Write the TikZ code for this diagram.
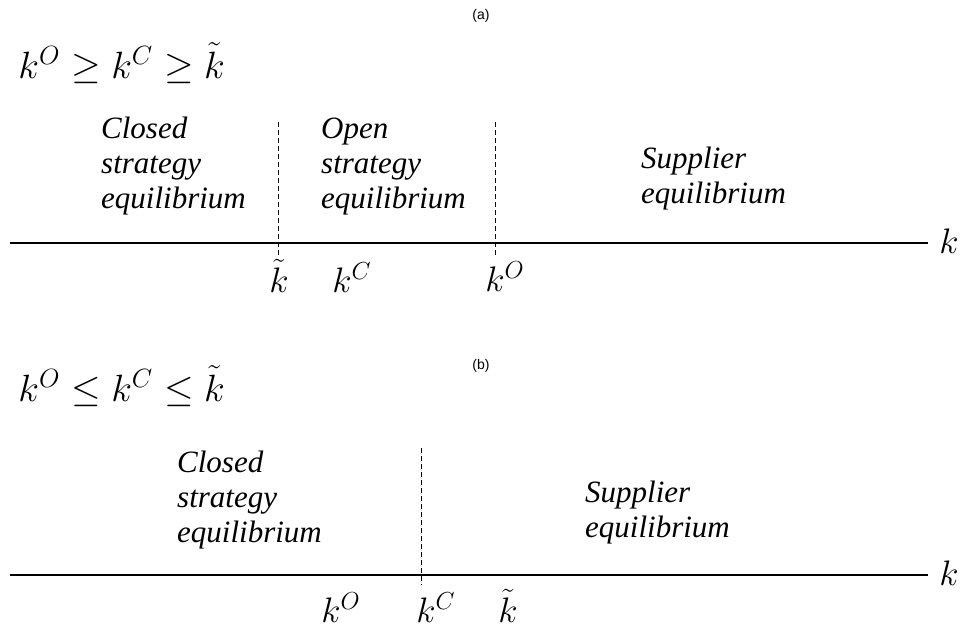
\documentclass[tikz,border=0pt]{standalone}
\usepackage{fontspec}
\setmainfont{Liberation Serif}
\newfontfamily\labelsans{Liberation Sans}
\begin{document}
\begin{tikzpicture}[x=1pt,y=-1pt,
  panellabel/.style={font=\labelsans\fontsize{14}{16}\selectfont, inner sep=0},
  regiontext/.style={font=\itshape\fontsize{31}{35}\selectfont, align=left, anchor=base west, inner sep=0},
  bigformula/.style={font=\fontsize{17}{20}\selectfont, scale=2.2, anchor=base west, inner sep=0},
  ticklabel/.style={font=\fontsize{17}{20}\selectfont, scale=2.05, anchor=base, inner sep=0},
  axisline/.style={line width=1.2pt},
  divider/.style={line width=0.7pt, dash pattern=on 5pt off 3pt}]
\useasboundingbox (0,0) rectangle (962,630);
% ---------- panel (a)
\node[panellabel] (labA) at (481,16) {(a)};
\node[bigformula] (formA) at (18,78) {$k^{O}\geq k^{C}\geq \tilde{k}$};
\node[regiontext] (closedA) at (101,208) {Closed\\strategy\\equilibrium};
\node[regiontext] (openA) at (321,208) {Open\\strategy\\equilibrium};
\node[regiontext] (suppA) at (641,203) {Supplier\\equilibrium};
\coordinate (axA0) at (10,243);
\coordinate (axA1) at (928,243);
\draw[axisline] (axA0) -- (axA1);
\node[ticklabel, anchor=base west] (kA) at (939,253) {$k$};
\coordinate (dA1top) at (278,122);
\coordinate (dA1bot) at (278,257);
\coordinate (dA2top) at (495,122);
\coordinate (dA2bot) at (495,257);
\draw[divider] (dA1top) -- (dA1bot);
\draw[divider] (dA2top) -- (dA2bot);
\node[ticklabel] (ktA) at (279,292) {$\tilde{k}$};
\node[ticklabel] (kcA) at (352,292) {$k^{C}$};
\node[ticklabel] (koA) at (505,291) {$k^{O}$};
% ---------- panel (b)
\node[panellabel] (labB) at (481,366) {(b)};
\node[bigformula] (formB) at (18,401) {$k^{O}\leq k^{C}\leq \tilde{k}$};
\node[regiontext] (closedB) at (177,542) {Closed\\strategy\\equilibrium};
\node[regiontext] (suppB) at (585,537) {Supplier\\equilibrium};
\coordinate (axB0) at (10,575);
\coordinate (axB1) at (928,575);
\draw[axisline] (axB0) -- (axB1);
\node[ticklabel, anchor=base west] (kB) at (939,585) {$k$};
\coordinate (dBtop) at (421,448);
\coordinate (dBbot) at (421,585);
\draw[divider] (dBtop) -- (dBbot);
\node[ticklabel] (koB) at (341,622) {$k^{O}$};
\node[ticklabel] (kcB) at (436,622) {$k^{C}$};
\node[ticklabel] (ktB) at (508,622) {$\tilde{k}$};
\end{tikzpicture}
\end{document}
